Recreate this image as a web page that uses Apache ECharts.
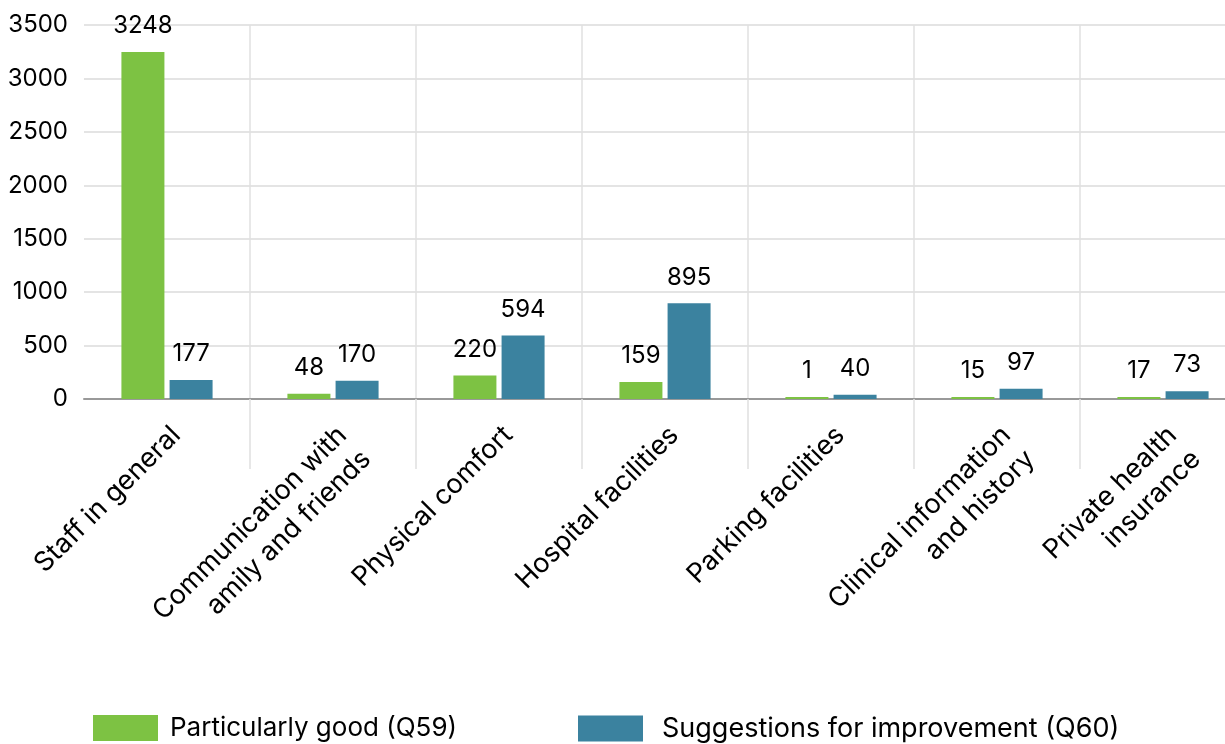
<!DOCTYPE html>
<html>
<head>
<meta charset="utf-8">
<script src="https://cdn.jsdelivr.net/npm/echarts@6/dist/echarts.min.js"></script>
<style>
  html, body { margin: 0; padding: 0; background: #fff; }
  #chart { width: 1225px; height: 744px; }
</style>
</head>
<body>
<div id="chart"></div>
<script>
const categories = [
  'Staff in general',
  'Communication with\namily and friends',
  'Physical comfort',
  'Hospital facilities',
  'Parking facilities',
  'Clinical information\nand history',
  'Private health\ninsurance',
]
const goodName = 'Particularly good (Q59)'
const improveName = 'Suggestions for improvement (Q60)'
const goodValues = [3248, 48, 220, 159, 1, 15, 17]
const improveValues = [177, 170, 594, 895, 40, 97, 73]
const yTicks = { min: 0, max: 3500, interval: 500 }

const colors = ['#7DC243', '#3B829F']
const font = 'Inter, Roboto, sans-serif'
// skip the boundary at the very left, the reference has no line there
const skipFirst = (i) => i > 0

const chart = echarts.init(document.getElementById('chart'))

const valueLabel = {
  show: true,
  position: 'top',
  distance: 14,
  color: '#000',
  fontFamily: font,
  fontSize: 24,
  lineHeight: 24,
}

const legendText = { fontFamily: font, fontSize: 26, color: '#000' }

chart.setOption({
  animation: false,
  color: colors,
  textStyle: { fontFamily: font },
  grid: {
    left: 84,
    top: 25,
    width: 1162,
    height: 374,
    outerBoundsMode: 'none',
  },
  legend: [{
    data: [goodName],
    left: 93,
    top: 715,
    padding: 0,
    itemWidth: 65,
    itemHeight: 26,
    icon: 'rect',
    textStyle: { ...legendText, padding: [0, 0, 0, 7] },
  }, {
    data: [improveName],
    left: 578,
    top: 715,
    padding: 0,
    itemWidth: 65,
    itemHeight: 26,
    icon: 'rect',
    textStyle: { ...legendText, fontSize: 27, padding: [0, 0, 0, 14] },
  }],
  xAxis: {
    type: 'category',
    data: categories,
    axisLine: {
      show: true,
      lineStyle: { color: '#999', width: 2 },
    },
    axisTick: {
      show: true,
      interval: skipFirst,
      length: 70,
      lineStyle: { color: '#e0e0e0', width: 1.5 },
    },
    splitLine: {
      show: true,
      interval: skipFirst,
      lineStyle: { color: '#e0e0e0', width: 1.5 },
    },
    axisLabel: {
      interval: 0,
      rotate: 45,
      margin: 17,
      padding: [0, 4, 0, 0],
      verticalAlign: 'top',
      color: '#000',
      fontFamily: font,
      fontSize: 27,
      lineHeight: 34,
    },
  },
  yAxis: {
    type: 'value',
    min: yTicks.min,
    max: yTicks.max,
    interval: yTicks.interval,
    axisLine: { show: false },
    axisTick: { show: false },
    splitLine: {
      lineStyle: { color: '#e4e4e4', width: 2 },
    },
    axisLabel: {
      margin: 16,
      color: '#000',
      fontFamily: font,
      fontSize: 24,
      formatter: (v) => String(v),
    },
  },
  series: [{
    name: goodName,
    type: 'bar',
    data: goodValues,
    barWidth: 43,
    barGap: '12%',
    barMinHeight: 2,
    label: valueLabel,
  }, {
    name: improveName,
    type: 'bar',
    data: improveValues,
    barWidth: 43,
    barGap: '12%',
    barMinHeight: 2,
    label: valueLabel,
  }],
})
</script>
</body>
</html>
